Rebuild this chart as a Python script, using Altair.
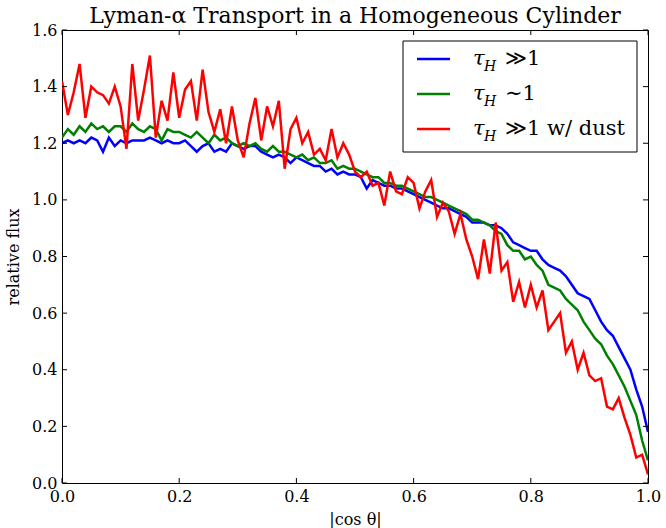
import altair as alt
import pandas as pd

# |cos theta| sample points
cos_theta = [
    0.00, 0.01, 0.02, 0.03, 0.04, 0.05, 0.06, 0.07, 0.08, 0.09,
    0.10, 0.11, 0.12, 0.13, 0.14, 0.15, 0.16, 0.17, 0.18, 0.19,
    0.20, 0.21, 0.22, 0.23, 0.24, 0.25, 0.26, 0.27, 0.28, 0.29,
    0.30, 0.31, 0.32, 0.33, 0.34, 0.35, 0.36, 0.37, 0.38, 0.39,
    0.40, 0.41, 0.42, 0.43, 0.44, 0.45, 0.46, 0.47, 0.48, 0.49,
    0.50, 0.51, 0.52, 0.53, 0.54, 0.55, 0.56, 0.57, 0.58, 0.59,
    0.60, 0.61, 0.62, 0.63, 0.64, 0.65, 0.66, 0.67, 0.68, 0.69,
    0.70, 0.71, 0.72, 0.73, 0.74, 0.75, 0.76, 0.77, 0.78, 0.79,
    0.80, 0.81, 0.82, 0.83, 0.84, 0.85, 0.86, 0.87, 0.88, 0.89,
    0.90, 0.91, 0.92, 0.93, 0.94, 0.95, 0.96, 0.97, 0.98, 0.99,
    1.00,
]

# tau_H >> 1
flux_thick = [
    1.20, 1.21, 1.20, 1.21, 1.20, 1.22, 1.21, 1.17, 1.22, 1.19,
    1.21, 1.20, 1.21, 1.21, 1.21, 1.22, 1.21, 1.20, 1.21, 1.20,
    1.20, 1.21, 1.19, 1.17, 1.19, 1.20, 1.17, 1.18, 1.17, 1.20,
    1.19, 1.18, 1.19, 1.19, 1.17, 1.16, 1.15, 1.16, 1.15, 1.13,
    1.15, 1.14, 1.13, 1.12, 1.12, 1.10, 1.11, 1.09, 1.10, 1.09,
    1.09, 1.08, 1.04, 1.07, 1.06, 1.05, 1.05, 1.04, 1.04, 1.03,
    1.02, 1.01, 1.00, 0.99, 0.98, 0.97, 0.97, 0.96, 0.95, 0.94,
    0.92, 0.92, 0.92, 0.91, 0.91, 0.90, 0.88, 0.85, 0.84, 0.83,
    0.82, 0.82, 0.79, 0.77, 0.76, 0.75, 0.73, 0.70, 0.67, 0.66,
    0.65, 0.61, 0.57, 0.54, 0.52, 0.48, 0.44, 0.40, 0.33, 0.27,
    0.18,
]

# tau_H ~ 1
flux_unity = [
    1.22, 1.25, 1.23, 1.26, 1.24, 1.27, 1.25, 1.26, 1.24, 1.26,
    1.26, 1.24, 1.27, 1.25, 1.24, 1.26, 1.25, 1.21, 1.25, 1.24,
    1.24, 1.23, 1.22, 1.24, 1.22, 1.20, 1.23, 1.21, 1.22, 1.20,
    1.19, 1.20, 1.19, 1.20, 1.18, 1.17, 1.19, 1.17, 1.17, 1.16,
    1.15, 1.16, 1.14, 1.15, 1.13, 1.13, 1.14, 1.11, 1.12, 1.11,
    1.11, 1.10, 1.09, 1.08, 1.08, 1.06, 1.06, 1.05, 1.05, 1.04,
    1.03, 1.02, 1.01, 1.01, 1.00, 0.99, 0.98, 0.97, 0.96, 0.95,
    0.93, 0.93, 0.92, 0.91, 0.89, 0.88, 0.84, 0.82, 0.82, 0.79,
    0.80, 0.77, 0.75, 0.70, 0.69, 0.68, 0.65, 0.63, 0.61, 0.57,
    0.54, 0.51, 0.49, 0.45, 0.42, 0.38, 0.34, 0.29, 0.24, 0.15,
    0.08,
]

# tau_H >> 1 with dust
flux_dust = [
    1.42, 1.30, 1.38, 1.48, 1.29, 1.40, 1.38, 1.37, 1.34, 1.40,
    1.33, 1.18, 1.48, 1.28, 1.39, 1.51, 1.22, 1.35, 1.28, 1.45,
    1.29, 1.39, 1.42, 1.28, 1.46, 1.31, 1.24, 1.32, 1.20, 1.33,
    1.21, 1.15, 1.27, 1.36, 1.21, 1.33, 1.26, 1.35, 1.11, 1.25,
    1.29, 1.20, 1.24, 1.16, 1.18, 1.14, 1.25, 1.15, 1.20, 1.16,
    1.10, 1.08, 1.10, 1.05, 1.06, 0.98, 1.10, 1.03, 1.02, 1.08,
    1.06, 0.97, 1.03, 1.07, 0.94, 0.99, 0.96, 0.88, 0.95, 0.86,
    0.80, 0.72, 0.86, 0.74, 0.92, 0.75, 0.78, 0.64, 0.71, 0.62,
    0.70, 0.62, 0.68, 0.54, 0.57, 0.60, 0.46, 0.50, 0.40, 0.46,
    0.38, 0.36, 0.37, 0.27, 0.26, 0.30, 0.23, 0.17, 0.09, 0.10,
    0.03,
]

x_ticks = [0.0, 0.2, 0.4, 0.6, 0.8, 1.0]
y_ticks = [0.0, 0.2, 0.4, 0.6, 0.8, 1.0, 1.2, 1.4, 1.6]

colors = ["#0000ff", "#008000", "#ff0000"]
legend_rest = ["\u226b1", "\u223c1", "\u226b1 w/ dust"]
title_text = "Lyman-\u03b1 Transport in a Homogeneous Cylinder"

FONT = "DejaVu Serif"
W, H = 586, 453

x_scale = alt.Scale(domain=[0, 1], nice=False, zero=False)
y_scale = alt.Scale(domain=[0, 1.6], nice=False, zero=False)

x_axis = alt.Axis(
    title="|cos \u03b8|", values=x_ticks, format=".1f", ticks=False,
    grid=False, domain=False, labelPadding=5, titlePadding=7,
    labelFlush=False, labelFont=FONT, labelFontSize=16, labelColor="black",
    titleFont=FONT, titleFontSize=16, titleFontWeight="normal",
    titleColor="black",
)
y_axis = alt.Axis(
    title="relative flux", values=y_ticks, format=".1f", ticks=False,
    grid=False, domain=False, labelPadding=5, titlePadding=10,
    labelFlush=False, labelFont=FONT, labelFontSize=16, labelColor="black",
    titleFont=FONT, titleFontSize=16, titleFontWeight="normal",
    titleColor="black",
)

df = pd.DataFrame({
    "cos": cos_theta,
    "thick": flux_thick,
    "unity": flux_unity,
    "dust": flux_dust,
})
base = alt.Chart(df)


def X(field):
    return alt.X(f"{field}:Q", scale=x_scale, axis=x_axis)


def Y(field):
    return alt.Y(f"{field}:Q", scale=y_scale, axis=y_axis)


def curve(field, color):
    return base.mark_line(color=color, strokeWidth=2.5, clip=True).encode(
        x=X("cos"), y=Y(field))


lines = [
    curve("thick", colors[0]),
    curve("unity", colors[1]),
    curve("dust", colors[2]),
]

# inward tick marks on all four sides
xt = alt.Chart(pd.DataFrame({"cos": x_ticks}))
yt = alt.Chart(pd.DataFrame({"flux": y_ticks}))
tick_len = 5
ticks = [
    xt.mark_rule(color="black", strokeWidth=1).encode(
        x=X("cos"), y=alt.value(H), y2=alt.value(H - tick_len)),
    xt.mark_rule(color="black", strokeWidth=1).encode(
        x=X("cos"), y=alt.value(0), y2=alt.value(tick_len)),
    yt.mark_rule(color="black", strokeWidth=1).encode(
        y=Y("flux"), x=alt.value(0), x2=alt.value(tick_len)),
    yt.mark_rule(color="black", strokeWidth=1).encode(
        y=Y("flux"), x=alt.value(W), x2=alt.value(W - tick_len)),
]

one = alt.Chart(pd.DataFrame({"k": [0]}))

# chart title above the frame
title = one.mark_text(
    text=title_text, font=FONT, fontSize=22, color="black",
    align="center", baseline="alphabetic",
).encode(x=alt.value(W / 2), y=alt.value(-7))

# legend box
legend = [
    one.mark_rect(fill="white", stroke="black", strokeWidth=1).encode(
        x=alt.value(341), x2=alt.value(575), y=alt.value(11), y2=alt.value(122)),
]
row_y = [29, 64, 99]
for i in range(3):
    ry = row_y[i]
    legend.append(
        one.mark_rule(color=colors[i], strokeWidth=2.5).encode(
            x=alt.value(355), x2=alt.value(388), y=alt.value(ry)))
    legend.append(
        one.mark_text(text="\u03c4", font=FONT, fontSize=21, fontStyle="italic",
                      align="left", baseline="middle").encode(
            x=alt.value(411), y=alt.value(ry)))
    legend.append(
        one.mark_text(text="H", font=FONT, fontSize=14, fontStyle="italic",
                      align="left", baseline="middle").encode(
            x=alt.value(422), y=alt.value(ry + 8)))
    legend.append(
        one.mark_text(text=legend_rest[i], font=FONT, fontSize=21,
                      align="left", baseline="middle").encode(
            x=alt.value(443), y=alt.value(ry)))

chart = alt.layer(*lines, *ticks, title, *legend).properties(
    width=W,
    height=H,
    autosize=alt.AutoSizeParams(type="none"),
    padding={"left": 62, "top": 30, "right": 18, "bottom": 45},
    background="white",
).configure_view(
    stroke="black", strokeWidth=1,
)

chart.save("out.html", embed_options={"renderer": "svg", "actions": False})
